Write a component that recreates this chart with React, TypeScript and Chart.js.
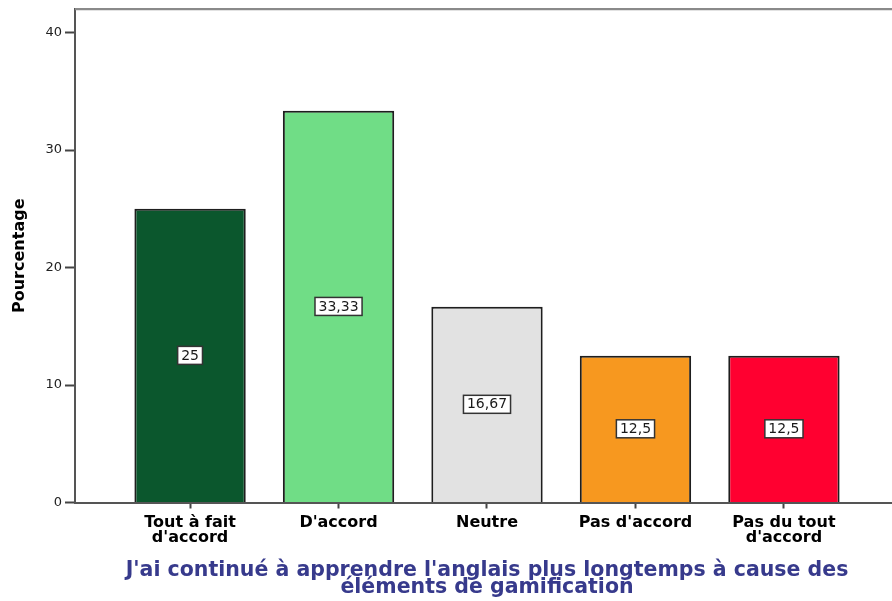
import React, { useEffect, useRef } from "react";
import { Chart, registerables } from "chart.js";

Chart.register(...registerables);

const categories: string[][] = [
  ["Tout à fait", "d'accord"],
  ["D'accord"],
  ["Neutre"],
  ["Pas d'accord"],
  ["Pas du tout", "d'accord"],
];
const percentages: number[] = [25, 33.33, 16.67, 12.5, 12.5];
const barColors: string[] = ["#0b572d", "#70dd86", "#e2e2e2", "#f7981f", "#ff0030"];
const yTicks: number[] = [0, 10, 20, 30, 40];
const yTitle = "Pourcentage";
const xTitle: string[] = [
  "J'ai continué à apprendre l'anglais plus longtemps à cause des",
  "éléments de gamification",
];

const FONT = '"DejaVu Sans", Verdana, sans-serif';

const valueLabels = {
  id: "valueLabels",
  afterDatasetsDraw(chart: any) {
    const ctx = chart.ctx;
    const meta = chart.getDatasetMeta(0);
    ctx.save();
    ctx.font = `14px ${FONT}`;
    ctx.textAlign = "center";
    ctx.textBaseline = "middle";
    meta.data.forEach((el: any, i: number) => {
      const { x, y, base } = el.getProps(["x", "y", "base"], true);
      const cy = (y + base) / 2;
      const text = String(percentages[i]).replace(".", ",");
      const w = ctx.measureText(text).width + 7;
      const h = 18;
      ctx.fillStyle = "#ffffff";
      ctx.fillRect(x - w / 2, cy - h / 2, w, h);
      ctx.strokeStyle = "#333";
      ctx.lineWidth = 1.5;
      ctx.strokeRect(x - w / 2, cy - h / 2, w, h);
      ctx.fillStyle = "#1a1a1a";
      ctx.fillText(text, x, cy + 0.5);
    });
    ctx.restore();
  },
};

const topFrame = {
  id: "topFrame",
  afterDraw(chart: any) {
    const { ctx, chartArea } = chart;
    ctx.save();
    ctx.strokeStyle = "#8a8a8a";
    ctx.lineWidth = 2.5;
    ctx.beginPath();
    ctx.moveTo(chartArea.left, chartArea.top);
    ctx.lineTo(chartArea.right, chartArea.top);
    ctx.stroke();
    ctx.restore();
  },
};

export default function App() {
  const ref = useRef<HTMLCanvasElement>(null);

  useEffect(() => {
    document.body.style.margin = "0";
    Chart.defaults.font.family = FONT;
    const chart = new Chart(ref.current as HTMLCanvasElement, {
      type: "bar",
      data: {
        datasets: [
          {
            data: percentages.map((v, i) => ({ x: i, y: v })),
            backgroundColor: barColors,
            borderColor: "#1e1e1e",
            borderWidth: 2,
            categoryPercentage: 1,
            barPercentage: 0.75,
          } as any,
        ],
      },
      options: {
        animation: false,
        responsive: true,
        maintainAspectRatio: false,
        layout: { padding: { top: 1, left: 0, right: 0, bottom: 0 } },
        plugins: {
          legend: { display: false },
          tooltip: { enabled: false },
        },
        scales: {
          x: {
            type: "linear",
            min: -0.775,
            max: 4.775,
            offset: false,
            afterBuildTicks: (scale: any) => {
              scale.ticks = categories.map((_, i) => ({ value: i }));
            },
            afterFit: (scale: any) => {
              scale.height = 98.5;
              scale.paddingLeft = 0;
              scale.paddingRight = 0;
            },
            grid: {
              display: true,
              offset: false,
              drawOnChartArea: false,
              drawTicks: true,
              tickLength: 6,
              tickColor: "#444",
              tickWidth: 2,
            },
            border: { display: true, color: "#555", width: 2 },
            ticks: {
              autoSkip: false,
              maxRotation: 0,
              padding: 7,
              color: "#000",
              font: { family: FONT, size: 16, weight: "bold", lineHeight: 0.95 },
              callback: (value: any) => categories[Math.round(Number(value))] ?? "",
            },
            title: {
              display: true,
              text: xTitle,
              color: "#373a8c",
              font: { family: FONT, size: 20.5, weight: "bold", lineHeight: 0.83 },
              padding: { top: 0, bottom: 4.5 },
            },
          },
          y: {
            type: "linear",
            min: 0,
            max: 42,
            afterBuildTicks: (scale: any) => {
              scale.ticks = yTicks.map((v) => ({ value: v }));
            },
            afterFit: (scale: any) => {
              scale.width = 67;
              scale.paddingTop = 0;
              scale.paddingBottom = 0;
            },
            grid: {
              display: true,
              drawOnChartArea: false,
              drawTicks: true,
              tickLength: 10,
              tickColor: "#444",
              tickWidth: 2,
            },
            border: { display: true, color: "#555", width: 2 },
            ticks: {
              padding: 3,
              color: "#222",
              font: { family: FONT, size: 13 },
            },
            title: {
              display: true,
              text: yTitle,
              color: "#000",
              font: { family: FONT, size: 16, weight: "bold" },
              padding: { top: 2.4, bottom: 0 },
            },
          },
        },
      } as any,
      plugins: [valueLabels, topFrame],
    });
    return () => chart.destroy();
  }, []);

  return (
    <div style={{ width: 892, height: 601, overflow: "hidden", position: "relative", background: "#fff" }}>
      <div style={{ position: "absolute", left: 8, top: 8, width: 891, height: 593 }}>
        <canvas ref={ref} />
      </div>
    </div>
  );
}
